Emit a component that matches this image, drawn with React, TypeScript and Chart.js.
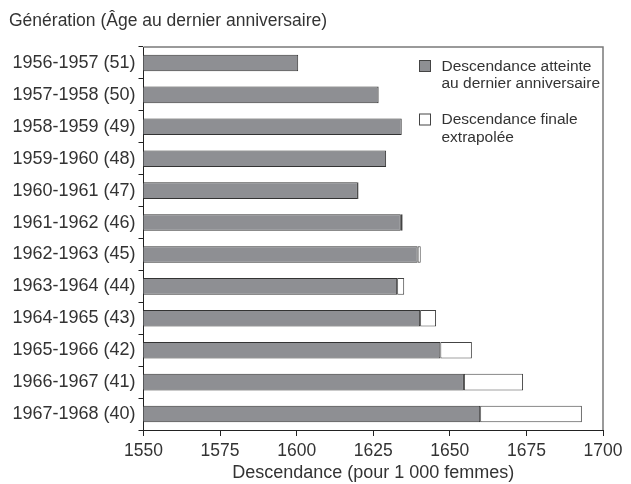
import React, { useEffect, useRef } from "react";
import { Chart, registerables } from "chart.js";

Chart.register(...registerables);

const categories = [
  "1956-1957 (51)",
  "1957-1958 (50)",
  "1958-1959 (49)",
  "1959-1960 (48)",
  "1960-1961 (47)",
  "1961-1962 (46)",
  "1962-1963 (45)",
  "1963-1964 (44)",
  "1964-1965 (43)",
  "1965-1966 (42)",
  "1966-1967 (41)",
  "1967-1968 (40)",
];
const attained = [1600.5, 1626.7, 1634.3, 1629.2, 1620, 1634, 1639.5, 1632.8, 1640.3, 1646.9, 1654.6, 1659.9];
const extrapolated = [0, 0.2, 0, 0, 0.2, 0.6, 1, 2.3, 5.2, 10.3, 19.3, 33.2];
const xTicks = [1550, 1575, 1600, 1625, 1650, 1675, 1700];
const legendLabels = [
  ["Descendance atteinte", "au dernier anniversaire"],
  ["Descendance finale", "extrapolée"],
];
const titleText = "Génération (Âge au dernier anniversaire)";
const xTitle = "Descendance (pour 1 000 femmes)";

const FONT = "'Liberation Sans', Arial, sans-serif";
const GREY = "#8e8f93";

export default function App() {
  const ref = useRef<HTMLCanvasElement>(null);
  useEffect(() => {
    const canvas = ref.current!;
    const overlay = {
      id: "overlay",
      afterDraw(chart: any) {
        const ctx = chart.ctx;
        const a = chart.chartArea;
        ctx.save();
        // frame top/right
        ctx.strokeStyle = "#7a7a7a";
        ctx.lineWidth = 1.5;
        ctx.beginPath();
        ctx.moveTo(a.left, a.top);
        ctx.lineTo(a.right, a.top);
        ctx.lineTo(a.right, a.bottom);
        ctx.stroke();
        // title
        ctx.fillStyle = "#333";
        ctx.font = `17.5px ${FONT}`;
        ctx.textBaseline = "middle";
        ctx.textAlign = "left";
        ctx.fillText(titleText, 9, 21);
        // x title
        ctx.font = `18px ${FONT}`;
        ctx.textAlign = "center";
        ctx.fillText(xTitle, (a.left + a.right) / 2, 473);
        // legend
        const colors = [GREY, "#ffffff"];
        ctx.font = `15.5px ${FONT}`;
        ctx.textAlign = "left";
        legendLabels.forEach((lines, i) => {
          const y0 = 60 + i * 53.5;
          ctx.fillStyle = colors[i];
          ctx.fillRect(419.5, y0 + 0.5, 11, 11);
          ctx.strokeStyle = "#444";
          ctx.lineWidth = 1;
          ctx.strokeRect(419.5, y0 + 0.5, 11, 11);
          ctx.fillStyle = "#333";
          lines.forEach((t, j) => ctx.fillText(t, 441.5, y0 + 6.5 + j * 17.5));
        });
        ctx.restore();
      },
    };
    const chart = new Chart(canvas, {
      type: "bar",
      data: {
        labels: categories,
        datasets: [
          {
            label: legendLabels[0].join(" "),
            data: attained,
            backgroundColor: GREY,
            borderColor: "#333",
            borderWidth: 1,
            borderSkipped: false,
            barPercentage: 0.52,
            categoryPercentage: 1,
          },
          {
            label: legendLabels[1].join(" "),
            data: extrapolated,
            backgroundColor: "#ffffff",
            borderColor: "#444",
            borderWidth: 1,
            borderSkipped: false,
            barPercentage: 0.52,
            categoryPercentage: 1,
          },
        ],
      },
      options: {
        indexAxis: "y",
        animation: false,
        responsive: false,
        layout: { padding: { top: 47, right: 28, left: 0, bottom: 0 } },
        plugins: { legend: { display: false }, tooltip: { enabled: false } },
        scales: {
          x: {
            stacked: true,
            min: 1550,
            max: 1700,
            afterBuildTicks: (s: any) => {
              s.ticks = xTicks.map((v) => ({ value: v }));
            },
            afterFit: (s: any) => {
              s.height = 54;
            },
            grid: {
              drawOnChartArea: false,
              drawTicks: true,
              tickLength: 6,
              color: "#222",
            },
            border: { color: "#222", width: 1 },
            ticks: {
              color: "#333",
              font: { family: FONT, size: 17.5 },
              padding: 5,
              callback: (v: any) => String(v),
            },
          },
          y: {
            stacked: true,
            afterFit: (s: any) => {
              s.width = 143.5;
            },
            grid: {
              offset: true,
              drawOnChartArea: false,
              tickLength: 5,
              color: "#222",
            },
            border: { color: "#222", width: 1 },
            ticks: {
              color: "#333",
              font: { family: FONT, size: 18 },
              padding: 3,
            },
          },
        },
      },
      plugins: [overlay],
    });
    return () => chart.destroy();
  }, []);
  return (
    <div style={{ position: "absolute", left: 0, top: 0, width: 631, height: 484, background: "#fff" }}>
      <canvas ref={ref} width={631} height={484} style={{ width: 631, height: 484 }} />
    </div>
  );
}
